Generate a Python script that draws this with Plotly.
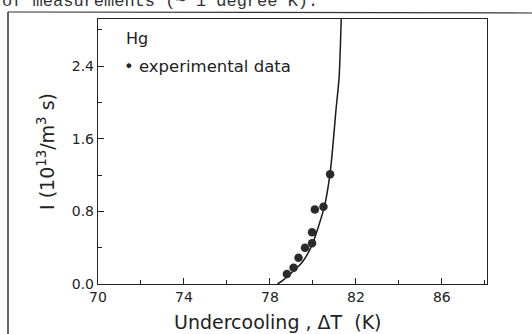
import plotly.graph_objects as go

exp_dT = [78.79, 79.10, 79.33, 79.63, 79.96, 79.96, 80.09, 80.49, 80.80]
exp_I = [0.11, 0.18, 0.29, 0.40, 0.45, 0.57, 0.82, 0.85, 1.21]

# theoretical curve
fit_dT = [78.35, 78.60, 78.98, 79.52, 79.99, 80.53, 80.80, 80.92, 81.07, 81.22, 81.32]
fit_I = [0.0, 0.040, 0.118, 0.245, 0.448, 0.85, 1.22, 1.50, 1.91, 2.28, 2.95]

x_ticks = [70, 74, 78, 82, 86]
y_ticks = [0.0, 0.8, 1.6, 2.4]
y_tick_labels = ["0.0", "0.8", "1.6", "2.4"]

FONT = "DejaVu Sans"

fig = go.Figure()
fig.add_trace(go.Scatter(x=fit_dT, y=fit_I, mode="lines",
                         line=dict(color="#1a1a1a", width=1.5, shape="spline", smoothing=0.6),
                         showlegend=False, hoverinfo="skip"))
fig.add_trace(go.Scatter(x=exp_dT, y=exp_I, mode="markers",
                         marker=dict(color="#2a2a2a", size=8.5),
                         showlegend=False))

fig.update_layout(
    width=532, height=334,
    margin=dict(l=98, r=45, t=19, b=50),
    paper_bgcolor="white", plot_bgcolor="white",
    font=dict(family=FONT, color="#222222"),
    xaxis=dict(range=[70, 88.1], tickvals=x_ticks, ticks="inside", ticklen=6,
               tickwidth=1.2, tickcolor="#222", showline=True, linecolor="#222",
               linewidth=1.4, mirror=True, showgrid=False, zeroline=False,
               tickfont=dict(size=14, family=FONT),
               minor=dict(tickvals=[72, 76, 80, 84, 88], ticks="inside", ticklen=4,
                          tickcolor="#222", showgrid=False)),
    yaxis=dict(range=[0, 2.92], tickvals=y_ticks, ticktext=y_tick_labels,
               ticks="inside", ticklen=6, tickwidth=1.2, tickcolor="#222",
               showline=True, linecolor="#222", linewidth=1.4, mirror=True,
               showgrid=False, zeroline=False, tickfont=dict(size=14, family=FONT),
               title=dict(text="I (10<sup>13</sup>/m<sup>3</sup> s)", font=dict(size=19, family=FONT),
                          standoff=12),
               minor=dict(tickvals=[0.4, 1.2, 2.0, 2.8], ticks="inside", ticklen=4,
                          tickcolor="#222", showgrid=False)),
)

PW = 532 - 98 - 45
PH = 334 - 19 - 50
fig.add_annotation(text="Undercooling , \u0394T  (K)", xref="paper", yref="paper",
                   x=(278 - 98) / PW, y=-(322 - 284) / PH, showarrow=False,
                   font=dict(size=19, family=FONT), xanchor="center", yanchor="middle")
fig.add_annotation(text="Hg", xref="paper", yref="paper",
                   x=(124 - 98) / PW, y=1 - (38 - 19) / PH, showarrow=False,
                   font=dict(size=16, family=FONT), xanchor="left", yanchor="middle")
fig.add_annotation(text="\u2022 experimental data", xref="paper", yref="paper",
                   x=(122 - 98) / PW, y=1 - (67 - 19) / PH, showarrow=False,
                   font=dict(size=16.5, family=FONT), xanchor="left", yanchor="middle")
# scanned page remnants: cut-off text line and page border
fig.add_annotation(text="of measurements (~ 1 degree K).", xref="paper", yref="paper",
                   x=-(98 - 0) / PW, y=1 + (19 - 1) / PH, showarrow=False,
                   font=dict(size=17, family="Liberation Mono", color="#333"),
                   xanchor="left", yanchor="middle")
fig.add_shape(type="line", xref="paper", yref="paper",
              x0=-(98 - 8) / PW, x1=(532 - 98) / PW, y0=1 + (19 - 12) / PH, y1=1 + (19 - 13) / PH,
              line=dict(color="#333", width=1.2))
fig.add_shape(type="line", xref="paper", yref="paper",
              x0=-(98 - 8) / PW, x1=-(98 - 8) / PW, y0=1 + (19 - 12) / PH, y1=-(334 - 284) / PH,
              line=dict(color="#333", width=1.5))

fig.write_html("out.html")
